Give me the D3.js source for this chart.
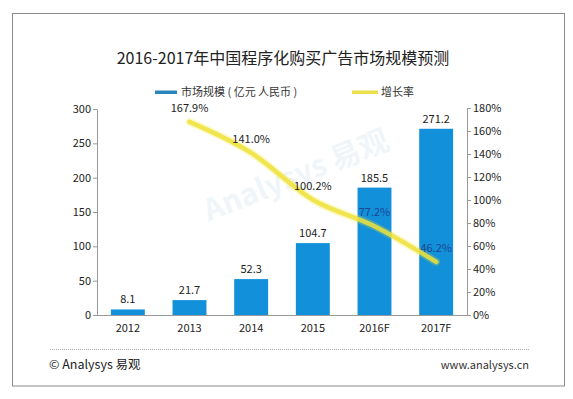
<!DOCTYPE html>
<html><head><meta charset="utf-8">
<script src="https://cdn.jsdelivr.net/npm/d3@7"></script>
<style>body{margin:0;background:#fff}svg{display:block}text{font-family:"Noto Sans CJK SC","Noto Sans",sans-serif}</style>
</head><body><svg id="c" width="573" height="399"></svg>
<script>
const categories = ["2012","2013","2014","2015","2016F","2017F"];
const marketSize = [8.1, 21.7, 52.3, 104.7, 185.5, 271.2];
const growthCats = ["2013","2014","2015","2016F","2017F"];
const growthRate = [167.9, 141.0, 100.2, 77.2, 46.2];
const leftTicks = [0,50,100,150,200,250,300];
const rightTicks = [0,20,40,60,80,100,120,140,160,180];

const svg = d3.select("#c");
const x = d3.scaleBand().domain(categories).range([97,467]).paddingInner(0.45).paddingOuter(0.225);
const yL = d3.scaleLinear().domain([0,300]).range([315,109]);
const yR = d3.scaleLinear().domain([0,180]).range([315,108]);

// frame
svg.append("rect").attr("x",12.5).attr("y",13.5).attr("width",552).attr("height",372.5)
  .attr("fill","none").attr("stroke","#8a8a8a").attr("stroke-width",1);

// title
svg.append("text").attr("x",283).attr("y",64).attr("text-anchor","middle")
  .attr("font-size",16).attr("fill","#222").text("2016-2017年中国程序化购买广告市场规模预测");

// watermark
const wm = svg.append("g").attr("transform","translate(300,185) rotate(-22)").attr("opacity",0.08);
wm.append("text").attr("x",0).attr("y",0).attr("text-anchor","middle").attr("font-size",30)
  .attr("font-weight","bold").attr("fill","#4a90c0").text("Analysys 易观");

// legend
svg.append("rect").attr("x",155).attr("y",90.5).attr("width",22).attr("height",3.5).attr("fill","#2a85bd");
svg.append("text").attr("x",181).attr("y",96).attr("font-size",11).attr("fill","#333").text("市场规模 ( 亿元 人民币 )");
svg.append("rect").attr("x",352).attr("y",90.5).attr("width",26).attr("height",3.5).attr("fill","#ece04a");
svg.append("text").attr("x",381).attr("y",96).attr("font-size",11).attr("fill","#333").text("增长率");

// bars
svg.selectAll("rect.bar").data(categories).enter().append("rect").attr("class","bar")
  .attr("x",d=>x(d)).attr("width",x.bandwidth())
  .attr("y",(d,i)=>yL(marketSize[i])).attr("height",(d,i)=>yL(0)-yL(marketSize[i]))
  .attr("fill","#1290da");

// bar value labels
svg.selectAll("text.bv").data(categories).enter().append("text").attr("class","bv")
  .attr("x",d=>x(d)+x.bandwidth()/2).attr("y",(d,i)=>yL(marketSize[i])-6)
  .attr("text-anchor","middle").attr("font-size",11).attr("fill","#222")
  .text((d,i)=>marketSize[i].toFixed(1));

// axes
const axL = d3.axisLeft(yL).tickValues(leftTicks).tickSize(4).tickSizeOuter(0);
const gL = svg.append("g").attr("transform","translate(97,0)").call(axL);
const axR = d3.axisRight(yR).tickValues(rightTicks).tickSize(4).tickFormat(d=>d+"%");
const gR = svg.append("g").attr("transform","translate(467,0)").call(axR);
const axB = d3.axisBottom(x).tickSize(0);
const gB = svg.append("g").attr("transform","translate(0,315)").call(axB);
gB.select(".domain").attr("d","M97,0.5H467");
[gL,gR,gB].forEach(g=>{
  g.selectAll(".domain").attr("stroke","#999");
  g.selectAll(".tick line").attr("stroke","#999");
  g.selectAll("text").attr("font-size",11).attr("fill","#222").style("font-family",'"Noto Sans CJK SC","Noto Sans",sans-serif');
});
gB.selectAll("text").attr("dy","1.3em");
gL.selectAll("text").attr("x",-6);
gR.selectAll("text").attr("x",6);

// growth line
const line = d3.line().x((d,i)=>x(growthCats[i])+x.bandwidth()/2).y(d=>yR(d)).curve(d3.curveMonotoneX);
svg.append("path").datum(growthRate).attr("d",line).attr("fill","none")
  .attr("stroke","#f5e62a").attr("stroke-width",8).attr("stroke-opacity",0.25).attr("stroke-linecap","round");
svg.append("path").datum(growthRate).attr("d",line).attr("fill","none")
  .attr("stroke","#eee23a").attr("stroke-width",4.5).attr("stroke-opacity",0.85).attr("stroke-linecap","round");

// growth labels
svg.selectAll("text.gv").data(growthRate).enter().append("text").attr("class","gv")
  .attr("x",(d,i)=>x(growthCats[i])+x.bandwidth()/2).attr("y",d=>yR(d)-10)
  .attr("text-anchor","middle").attr("font-size",11)
  .attr("fill",(d,i)=>i>=3?"#1d4690":"#222")
  .text(d=>d.toFixed(1)+"%");

// footer
svg.append("line").attr("x1",50).attr("x2",530).attr("y1",349.5).attr("y2",349.5)
  .attr("stroke","#aaa").attr("stroke-dasharray","1,1");
svg.append("text").attr("x",49).attr("y",369).attr("font-size",12.5).attr("fill","#222").text("© Analysys 易观");
svg.append("text").attr("x",529).attr("y",369).attr("text-anchor","end").attr("font-size",11).attr("fill","#333").text("www.analysys.cn");
</script></body></html>
